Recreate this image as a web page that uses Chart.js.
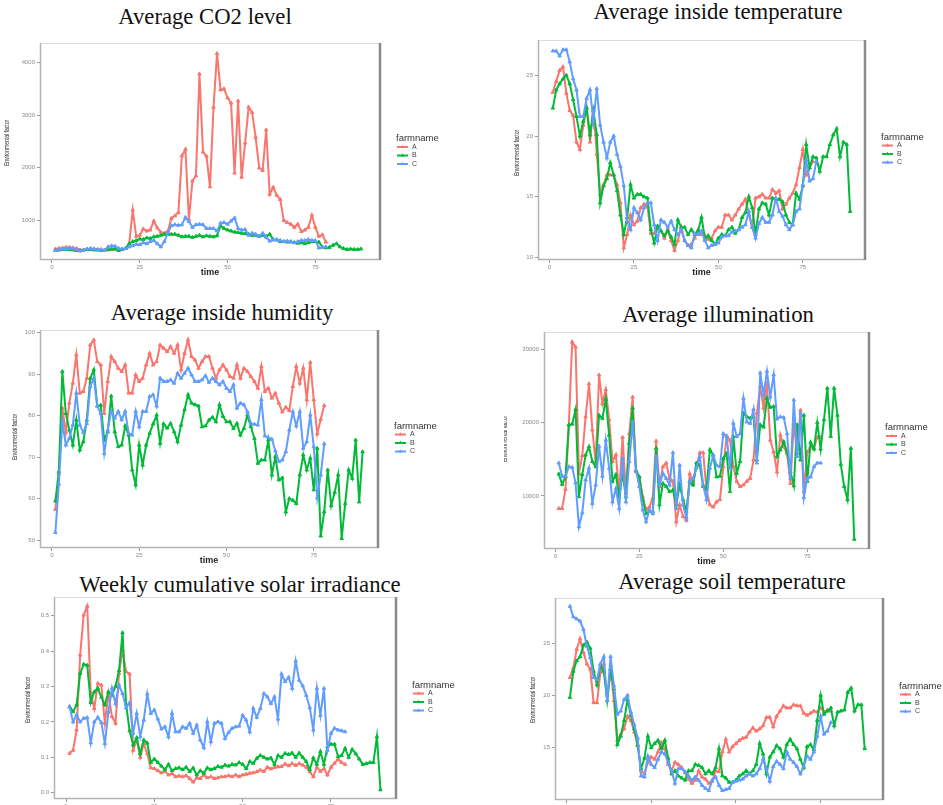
<!DOCTYPE html>
<html>
<head>
<meta charset="utf-8">
<title>Greenhouse environmental factors</title>
<script src="https://cdn.jsdelivr.net/npm/chart.js@4.4.1/dist/chart.umd.min.js"></script>
<style>
  html, body { margin: 0; padding: 0; background: #fff; }
  body { width: 943px; height: 805px; position: relative; overflow: hidden; }
  .title {
    position: absolute; transform: translateX(-50%); white-space: nowrap;
    font-family: "Liberation Serif", "DejaVu Serif", serif; font-size: 22.7px; line-height: 1; color: #111;
  }
  canvas { position: absolute; }
</style>
</head>
<body>
<div class="title" style="left:205px;top:6px">Average CO2 level</div>
<div class="title" style="left:718px;top:1px">Average inside temperature</div>
<div class="title" style="left:222px;top:302px">Average inside humidity</div>
<div class="title" style="left:718px;top:304px">Average illumination</div>
<div class="title" style="left:240px;top:574px">Weekly cumulative solar irradiance</div>
<div class="title" style="left:732px;top:571px">Average soil temperature</div>

<script>
const COLORS = { A: '#F8766D', B: '#00BA38', C: '#619CFF' };
const timeTicks = [0, 25, 50, 75];

// CO2 level
const co2A = [460, 470, 480, 490, 490, 480, 470, 440, 440, 450, 460, 460, 450, 450, 440, 440, 450, 460, 450, 450, 470,
  560, 1200, 700, 720, 840, 800, 820, 990, 860, 780, 760, 800, 1040, 1090, 1150,
  2230, 2350, 1020, 1750, 1850, 3780, 2300, 2220, 1640, 3150, 4170, 3480, 3500, 3330, 3230, 1900, 3270, 1820, 2470, 3150,
  3050, 2580, 2000, 1950, 2720, 1500, 1630, 1480, 1400, 1000, 960, 930, 870, 930, 790, 820, 870, 1100, 870, 700, 730, 590];
const co2B = [430, 440, 450, 450, 450, 440, 430, 430, 440, 450, 450, 440, 440, 430, 440, 450, 460, 460, 430, 450, 470,
  560, 600, 620, 650, 640, 670, 660, 690, 700, 720, 740, 740, 740, 740, 720, 690, 700, 700, 680, 700, 720, 690, 710, 700, 690, 710,
  900, 850, 820, 800, 780, 770, 760, 750, 740, 720, 720, 700, 720, 700, 740, 640, 630, 600, 600, 590, 600, 580, 570, 580,
  560, 580, 600, 600, 590, 500, 480, 490, 530, 560, 500, 470, 450, 460, 450, 450, 460];
const co2C = [430, 440, 460, 460, 470, 460, 450, 420, 440, 460, 470, 460, 450, 440, 440, 500, 520, 510, 470, 460, 470,
  500, 520, 550, 540, 580, 560, 600, 620, 560, 500, 600, 770, 900, 920, 910,
  920, 1060, 980, 870, 920, 930, 920, 850, 850, 850, 800, 950, 960, 930, 990, 1050, 850, 820, 830, 720, 760, 740, 700, 760,
  680, 610, 630, 640, 620, 600, 610, 590, 580, 600, 620, 620, 640, 620, 620, 480, 490, 500];
const co2Ticks = [1000, 2000, 3000, 4000];

// inside temperature
const tinA = [23.6, 24.5, 25.4, 25.7, 23.5, 22.1, 21.7, 19.5, 18.9, 20.9, 22.3, 19.5, 22.3, 18.5, 15.2, 16.0, 16.8, 16.8, 16.8, 16.0,
  14.5, 10.8, 11.9, 13.5, 12.7, 13.0, 14.1, 14.4, 14.2, 12.0, 12.0, 12.5, 12.2, 11.6, 12.3, 11.4, 10.6, 11.4, 12.5, 11.4,
  11.0, 11.1, 11.6, 12.3, 11.9, 11.8, 11.5, 11.6, 12.2, 12.5, 12.5, 13.5, 13.5, 13.1, 13.5, 14.0, 14.4, 14.8, 13.5, 12.5,
  14.9, 15.0, 15.2, 14.9, 14.9, 15.6, 15.3, 15.5, 14.0, 14.4, 14.9, 15.3, 16.0, 17.4, 18.9, 16.8, 17.4, 17.9];
const tinB = [22.3, 23.8, 24.3, 24.7, 25.0, 24.3, 23.0, 21.6, 20.0, 21.2, 22.3, 20.1, 22.1, 20.1, 14.5, 15.9, 16.5, 17.8, 16.8, 15.5,
  13.5, 11.9, 13.3, 16.0, 14.9, 15.2, 15.2, 15.0, 14.9, 12.3, 11.2, 12.6, 12.2, 11.8, 12.2, 11.7, 11.1, 13.1, 12.5, 12.5,
  11.9, 12.3, 11.9, 12.2, 13.3, 11.6, 11.8, 11.4, 11.1, 11.6, 11.9, 11.8, 12.3, 12.5, 12.0, 12.3, 13.3, 13.7, 15.0, 14.1,
  11.9, 14.0, 14.5, 14.4, 13.5, 14.9, 14.8, 14.8, 14.6, 13.5, 12.9, 12.7, 15.3, 14.8, 15.9, 19.3, 17.4, 18.3, 18.2, 17.1,
  18.3, 18.3, 19.3, 20.1, 20.6, 18.3, 19.5, 19.3, 13.8];
const tinC = [27.0, 27.0, 26.6, 27.1, 27.1, 26.1, 24.7, 23.8, 21.6, 21.6, 23.1, 23.8, 21.2, 23.9, 20.9, 19.5, 18.2, 19.5, 20.0, 18.5,
  17.5, 15.9, 13.0, 12.3, 14.1, 13.7, 13.1, 14.1, 14.5, 14.5, 12.7, 11.4, 13.1, 12.9, 12.5, 13.0, 12.3, 11.9, 12.3, 11.4,
  11.0, 10.8, 12.0, 11.9, 12.2, 11.4, 10.8, 11.0, 11.1, 11.2, 11.7, 11.8, 11.8, 12.1, 12.2, 12.3, 12.5, 12.7, 13.8, 12.5,
  11.6, 12.8, 13.3, 12.9, 12.9, 13.5, 14.9, 13.8, 13.4, 12.7, 12.3, 12.7, 13.8, 14.0, 16.0, 18.0, 16.3, 16.5, 17.9];
const tinTicks = [10, 15, 20, 25];

// inside humidity
const humA = [57.4, 66.0, 81.8, 76.0, 83.0, 87.8, 94.6, 85.4, 85.8, 89.0, 97.0, 98.2, 93.0, 92.2, 80.5, 88.2, 94.2, 93.0, 91.4, 90.6,
  92.2, 85.4, 85.4, 89.8, 88.2, 89.0, 92.2, 95.0, 92.2, 93.0, 97.0, 96.2, 95.4, 96.6, 95.0, 97.0, 91.0, 95.0, 98.2, 94.2,
  93.4, 91.4, 93.0, 94.2, 94.2, 91.4, 89.0, 91.0, 92.2, 91.0, 89.4, 89.0, 92.2, 89.0, 91.4, 90.6, 89.4, 88.2, 86.6, 91.8,
  85.8, 86.6, 84.2, 85.4, 83.0, 80.9, 82.0, 81.2, 87.0, 91.8, 87.8, 91.4, 83.8, 92.8, 83.8, 75.6, 79.1, 82.4];
const humB = [59.4, 66.5, 90.6, 80.5, 76.5, 72.9, 78.9, 71.7, 73.7, 78.9, 89.0, 91.0, 82.3, 82.5, 74.1, 76.1, 84.7, 76.1, 72.5, 72.9,
  77.5, 75.3, 66.9, 63.3, 72.9, 68.1, 72.9, 75.7, 78.0, 80.1, 73.3, 78.0, 77.0, 78.1, 76.1, 73.7, 77.7, 81.4, 85.0, 83.0,
  82.6, 82.3, 77.3, 77.5, 78.9, 79.6, 78.5, 82.6, 79.8, 78.5, 78.5, 76.9, 78.1, 75.3, 76.9, 80.1, 77.3, 74.5, 68.5, 69.3,
  69.3, 74.1, 65.7, 70.1, 64.5, 65.0, 56.8, 60.0, 59.6, 58.8, 65.7, 70.5, 66.9, 69.7, 62.1, 72.1, 51.0, 56.8, 66.9, 58.3,
  61.5, 65.7, 50.4, 58.8, 66.9, 64.9, 74.1, 59.2, 71.3];
const humC = [51.8, 63.5, 78.5, 72.9, 74.5, 77.7, 85.4, 77.7, 75.9, 78.1, 87.0, 89.0, 82.3, 80.5, 70.9, 76.5, 81.0, 79.4, 81.0, 79.0,
  81.0, 75.7, 75.3, 81.0, 77.3, 81.0, 81.0, 84.6, 85.0, 82.3, 89.0, 88.2, 88.2, 88.6, 87.8, 90.2, 89.0, 90.2, 91.4, 89.8,
  88.2, 88.2, 88.6, 89.6, 88.0, 89.0, 88.2, 87.4, 88.2, 86.6, 85.8, 87.4, 81.8, 83.0, 82.6, 80.9, 78.1, 77.9, 77.7, 83.8,
  75.1, 74.7, 74.3, 71.5, 68.9, 69.3, 71.3, 76.5, 80.9, 77.5, 80.9, 72.1, 73.7, 80.1, 72.5, 60.2, 65.7, 73.2];
const humTicks = [50, 60, 70, 80, 90, 100];

// illumination
const illA = [8300, 8300, 10900, 19700, 31000, 30300, 13100, 15500, 20800, 25300, 19000, 14500, 26500, 22600, 24500, 20400,
  14700, 15600, 10400, 18000, 10400, 18500, 23500, 13300, 12600, 9900, 8200, 8500, 9700, 17500, 11300, 14000, 14500, 12400,
  12000, 6500, 8800, 7200, 6700, 13000, 11700, 14000, 15900, 15900, 10800, 8800, 8500, 9200, 9500, 14000, 18200, 17600,
  14000, 12000, 11300, 11500, 12000, 12400, 14900, 21300, 24900, 22000, 25400, 17600, 16000, 13300, 18300, 16700, 15800,
  11700, 19900, 15800, 21700, 10600, 16000, 16700, 16500, 18000, 18000];
const illB = [13000, 11600, 12600, 19700, 19800, 21800, 9900, 12900, 15600, 16700, 14700, 14000, 21000, 20600, 23200, 18300,
  12000, 12900, 9900, 13100, 9900, 17200, 22000, 13500, 12600, 9500, 7600, 7900, 7900, 16500, 8800, 11700, 11300, 10600,
  10800, 8800, 11500, 9500, 7900, 12000, 11500, 14500, 14200, 11300, 11000, 16300, 15600, 12600, 12700, 15100, 15800, 10600,
  18100, 13100, 14700, 21300, 20800, 20600, 20800, 14900, 19700, 19400, 23300, 22100, 22200, 15400, 16300, 17400, 16000,
  13300, 11400, 19700, 14900, 21000, 12000, 17300, 16400, 20000, 16400, 20400, 24700, 18100, 24700, 21000, 14300, 11300,
  9500, 16500, 4100];
const illC = [14500, 12700, 12700, 14000, 13900, 11800, 5800, 7700, 12200, 13800, 9000, 11500, 16800, 12700, 17600, 13800,
  9200, 11000, 8300, 15100, 9200, 14700, 20100, 13500, 11300, 8100, 6500, 8100, 7600, 15400, 11500, 13100, 12400, 11500,
  15900, 8300, 14200, 8800, 7000, 12000, 12400, 13800, 15400, 11500, 9500, 13800, 15500, 14200, 14000, 18500, 18100, 13800,
  19900, 18100, 18500, 23300, 20100, 19900, 21800, 14500, 26800, 23800, 27000, 23500, 26500, 20500, 20800, 20700, 18500,
  12400, 23100, 15400, 21300, 9800, 12400, 12600, 14000, 14500, 14500];
const illTicks = [10000, 20000, 30000];

// weekly cumulative solar irradiance
const solA = [0.111, 0.120, 0.177, 0.389, 0.502, 0.527, 0.281, 0.238, 0.309, 0.304, 0.196, 0.281, 0.215, 0.196, 0.337, 0.403,
  0.342, 0.335, 0.120, 0.149, 0.100, 0.139, 0.110, 0.070, 0.068, 0.062, 0.056, 0.060, 0.050, 0.054, 0.045, 0.047, 0.045,
  0.048, 0.040, 0.030, 0.042, 0.040, 0.050, 0.042, 0.045, 0.040, 0.042, 0.045, 0.045, 0.048, 0.045, 0.050, 0.045, 0.050,
  0.052, 0.055, 0.056, 0.059, 0.064, 0.060, 0.072, 0.067, 0.071, 0.073, 0.074, 0.081, 0.076, 0.082, 0.077, 0.082, 0.078,
  0.072, 0.059, 0.045, 0.072, 0.060, 0.068, 0.050, 0.072, 0.083, 0.095, 0.085, 0.080];
const solB = [0.243, 0.229, 0.248, 0.337, 0.363, 0.360, 0.255, 0.285, 0.295, 0.270, 0.248, 0.285, 0.275, 0.300, 0.345, 0.452,
  0.250, 0.175, 0.135, 0.155, 0.110, 0.149, 0.140, 0.085, 0.095, 0.085, 0.075, 0.065, 0.080, 0.062, 0.068, 0.070, 0.065,
  0.072, 0.060, 0.070, 0.050, 0.062, 0.055, 0.070, 0.065, 0.068, 0.074, 0.072, 0.078, 0.075, 0.080, 0.078, 0.085, 0.080,
  0.068, 0.088, 0.083, 0.097, 0.105, 0.100, 0.095, 0.098, 0.080, 0.105, 0.100, 0.111, 0.108, 0.112, 0.100, 0.112, 0.100,
  0.088, 0.065, 0.098, 0.080, 0.116, 0.080, 0.130, 0.137, 0.137, 0.102, 0.105, 0.125, 0.100, 0.122, 0.110, 0.095, 0.080,
  0.082, 0.085, 0.085, 0.158, 0.008];
const solC = [0.243, 0.200, 0.220, 0.200, 0.210, 0.212, 0.141, 0.200, 0.213, 0.198, 0.139, 0.228, 0.295, 0.252, 0.304, 0.280,
  0.240, 0.254, 0.168, 0.224, 0.158, 0.205, 0.279, 0.224, 0.234, 0.208, 0.180, 0.186, 0.158, 0.224, 0.172, 0.172, 0.186,
  0.182, 0.196, 0.168, 0.191, 0.149, 0.127, 0.200, 0.144, 0.196, 0.200, 0.196, 0.153, 0.170, 0.182, 0.186, 0.188, 0.219,
  0.205, 0.172, 0.238, 0.213, 0.238, 0.280, 0.271, 0.252, 0.271, 0.208, 0.335, 0.314, 0.326, 0.295, 0.372, 0.318, 0.302,
  0.275, 0.240, 0.177, 0.295, 0.218, 0.295, 0.120, 0.168, 0.182, 0.177, 0.175, 0.172];
const solTicks = [0.0, 0.1, 0.2, 0.3, 0.4, 0.5];

// soil temperature
const soilA = [21.7, 22.6, 24.4, 25.4, 24.1, 23.0, 22.5, 19.3, 19.3, 22.2, 23.0, 19.5, 22.5, 19.5, 15.7, 16.3, 16.8, 18.0, 17.6, 16.5,
  15.3, 12.8, 12.5, 13.6, 14.1, 13.9, 14.6, 15.5, 14.9, 13.4, 12.8, 13.6, 13.4, 13.1, 12.6, 12.0, 11.6, 11.9, 12.8, 12.2,
  12.0, 11.6, 11.8, 12.8, 12.7, 14.6, 15.8, 14.6, 15.1, 15.4, 15.7, 15.9, 16.0, 16.5, 16.9, 16.6, 16.8, 17.1, 17.9, 17.9,
  17.0, 18.0, 18.5, 19.0, 18.8, 18.8, 19.1, 19.0, 19.0, 18.3, 18.1, 18.3, 18.5, 18.4, 18.8, 18.4, 18.6, 18.5];
const soilB = [19.8, 22.3, 23.3, 23.7, 24.8, 25.1, 24.5, 22.3, 21.0, 22.9, 22.3, 19.5, 22.5, 20.6, 15.3, 16.1, 17.6, 19.6, 18.1, 16.8,
  15.2, 13.0, 14.0, 16.1, 15.0, 15.4, 15.7, 14.9, 15.7, 14.0, 12.5, 12.8, 12.3, 12.1, 11.9, 12.8, 12.8, 13.4, 13.3, 13.1,
  12.5, 12.8, 12.5, 13.1, 14.9, 12.3, 12.1, 11.7, 11.7, 11.9, 12.3, 12.5, 12.8, 12.5, 12.8, 13.4, 15.4, 14.4, 12.5, 14.1,
  14.6, 15.2, 14.9, 14.1, 15.3, 15.8, 15.3, 14.9, 13.9, 13.1, 15.1, 15.3, 14.8, 17.6, 20.0, 18.2, 18.5, 18.8, 17.1, 18.4,
  18.5, 18.6, 20.3, 20.7, 18.5, 19.1, 19.1, 14.9];
const soilC = [28.5, 27.5, 27.3, 27.1, 26.3, 24.7, 23.6, 21.7, 21.5, 23.0, 23.7, 19.5, 23.7, 20.9, 18.2, 18.5, 19.6, 20.0, 18.4, 17.2,
  15.9, 12.3, 12.2, 14.2, 13.4, 13.1, 13.9, 14.6, 14.4, 13.6, 12.8, 11.6, 13.0, 13.0, 12.7, 12.3, 11.9, 12.2, 11.9, 11.4,
  11.1, 10.9, 11.9, 12.2, 11.4, 10.9, 11.0, 11.1, 11.7, 11.8, 11.9, 12.0, 12.3, 12.5, 12.3, 12.5, 13.0, 13.9, 13.0, 11.8,
  13.2, 13.7, 13.4, 13.0, 14.6, 13.9, 13.6, 13.2, 12.5, 13.2, 14.2, 13.9, 14.6, 16.1, 18.0, 16.3, 16.6, 17.4];
const soilTicks = [15, 20, 25];

// one panel per factor: plot box in page pixels [left, top, right, bottom]
const panels = [
  { a: co2A, b: co2B, c: co2C, ticks: co2Ticks, yMin: 250, yMax: 4370, box: [40, 43, 380, 260], yTitle: [7, 143] },
  { a: tinA, b: tinB, c: tinC, ticks: tinTicks, yMin: 9.8, yMax: 27.9, box: [538, 40, 865, 260], yTitle: [517, 153] },
  { a: humA, b: humB, c: humC, ticks: humTicks, yMin: 48.1, yMax: 100.6, box: [40, 330, 378, 548], yTitle: [15, 437] },
  { a: illA, b: illB, c: illC, ticks: illTicks, yMin: 2770, yMax: 32360, box: [544, 332, 869, 549], yTitle: [505, 439] },
  { a: solA, b: solB, c: solC, ticks: solTicks, yMin: -0.018, yMax: 0.553, box: [54, 597, 396, 799], yTitle: [28, 700], fmt: v => v.toFixed(1) },
  { a: soilA, b: soilB, c: soilC, ticks: soilTicks, yMin: 10.0, yMax: 29.3, box: [555, 598, 883, 800], yTitle: [533, 700] }
];

const AXIS_W = 40, AXIS_H = 24, PAD_TOP = 6, LEGEND_W = 60;

// light panel outline with the heavier grey edge on the right,
// plus the squeezed vertical "Environmental factor" label
const panelFrame = {
  id: 'panelFrame',
  beforeDatasetsDraw(chart, args, opts) {
    const { ctx, chartArea: a } = chart;
    ctx.save();
    ctx.strokeStyle = '#dcdcdc';
    ctx.lineWidth = 1;
    ctx.strokeRect(a.left + 0.5, a.top + 0.5, a.width - 1, a.height - 1);
    ctx.strokeStyle = '#b4b4b4';
    ctx.lineWidth = 1.5;
    ctx.beginPath();
    ctx.moveTo(a.left + 0.5, a.top);
    ctx.lineTo(a.left + 0.5, a.bottom - 0.5);
    ctx.lineTo(a.right, a.bottom - 0.5);
    ctx.stroke();
    ctx.strokeStyle = '#8a8a8a';
    ctx.lineWidth = 2.5;
    ctx.beginPath();
    ctx.moveTo(a.right, a.top);
    ctx.lineTo(a.right, a.bottom);
    ctx.stroke();

    ctx.translate(opts.titleX, opts.titleY);
    ctx.rotate(-Math.PI / 2);
    ctx.scale(0.72, 1);
    ctx.fillStyle = '#2a2a2a';
    ctx.font = '7px "Liberation Sans", Arial, sans-serif';
    ctx.textAlign = 'center';
    ctx.textBaseline = 'middle';
    ctx.fillText('Environmental factor', 0, 0);
    ctx.restore();
  }
};

// ggplot-style "farmname" key to the right of the panel
const farmLegend = {
  id: 'farmLegend',
  afterDraw(chart) {
    const { ctx, chartArea: a } = chart;
    const x0 = a.right + 16;
    const yc = (a.top + a.bottom) / 2;
    ctx.save();
    ctx.textBaseline = 'middle';
    ctx.fillStyle = '#333';
    ctx.font = '9.5px "Liberation Sans", Arial, sans-serif';
    ctx.fillText('farmname', x0, yc - 13);
    const items = chart.data.datasets.slice().sort((p, q) => p.label.localeCompare(q.label));
    items.forEach((ds, i) => {
      const y = yc - 4.5 + i * 8.5;
      ctx.strokeStyle = ds.borderColor;
      ctx.lineWidth = 2;
      ctx.beginPath();
      ctx.moveTo(x0 + 1, y);
      ctx.lineTo(x0 + 12, y);
      ctx.stroke();
      ctx.fillStyle = ds.borderColor;
      Chart.helpers.drawPoint(ctx, { pointStyle: 'triangle', radius: 2.2, rotation: 0, borderWidth: 0 }, x0 + 6.5, y);
      ctx.fillStyle = '#444';
      ctx.font = '7px "Liberation Sans", Arial, sans-serif';
      ctx.fillText(ds.label, x0 + 16, y);
    });
    ctx.restore();
  }
};

function series(label, values, order) {
  return {
    label,
    data: values.map((v, i) => ({ x: i + 1, y: v })),
    borderColor: COLORS[label],
    backgroundColor: COLORS[label],
    borderWidth: 2,
    pointStyle: 'triangle',
    pointRadius: 2,
    pointBorderWidth: 1,
    tension: 0,
    order
  };
}

function drawPanel(p) {
  const [left, top, right, bottom] = p.box;
  const cLeft = left - AXIS_W;
  const cTop = top - PAD_TOP;
  const width = right - cLeft + LEGEND_W;
  const height = bottom - cTop + AXIS_H;

  const canvas = document.createElement('canvas');
  canvas.width = width;
  canvas.height = height;
  canvas.style.left = cLeft + 'px';
  canvas.style.top = cTop + 'px';
  canvas.style.width = width + 'px';
  canvas.style.height = height + 'px';
  document.body.appendChild(canvas);

  const fmt = p.fmt || (v => String(v));

  new Chart(canvas, {
    type: 'line',
    data: { datasets: [series('A', p.a, 3), series('B', p.b, 2), series('C', p.c, 1)] },
    options: {
      responsive: false,
      animation: false,
      events: [],
      layout: { padding: { left: 0, top: PAD_TOP, right: LEGEND_W, bottom: 0 } },
      plugins: {
        legend: { display: false },
        tooltip: { enabled: false },
        panelFrame: { titleX: p.yTitle[0] - cLeft, titleY: p.yTitle[1] - cTop }
      },
      scales: {
        x: {
          type: 'linear', min: -3.4, max: 93.4,
          afterBuildTicks: s => { s.ticks = timeTicks.map(v => ({ value: v })); },
          afterFit: s => { s.height = AXIS_H; },
          border: { display: false },
          grid: { drawOnChartArea: false, tickLength: 3, color: '#9a9a9a' },
          ticks: { color: '#8a8a8a', font: { size: 6, family: 'Liberation Sans' }, padding: 1, maxRotation: 0 },
          title: { display: true, text: 'time', color: '#222', font: { size: 9, weight: 'bold', family: 'Liberation Sans' }, padding: { top: 0, bottom: 6 } }
        },
        y: {
          type: 'linear', min: p.yMin, max: p.yMax,
          afterBuildTicks: s => { s.ticks = p.ticks.map(v => ({ value: v })); },
          afterFit: s => { s.width = AXIS_W; },
          border: { display: false },
          grid: { drawOnChartArea: false, tickLength: 3, color: '#9a9a9a' },
          ticks: { color: '#8a8a8a', font: { size: 6, family: 'Liberation Sans' }, padding: 2, callback: v => fmt(v) }
        }
      }
    },
    plugins: [panelFrame, farmLegend]
  });
}

panels.forEach(drawPanel);
</script>
</body>
</html>
